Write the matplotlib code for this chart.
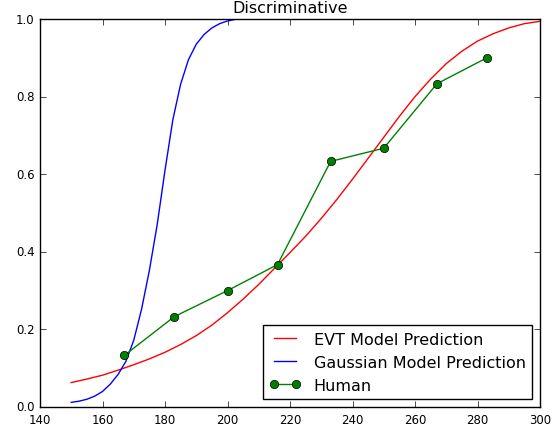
import matplotlib
matplotlib.use("Agg")
import matplotlib.pyplot as plt

plt.style.use("classic")

# Model prediction curves (stimulus value -> probability)
evt_x = [150, 155, 160, 165, 170, 175, 180, 185, 190, 195, 200, 205, 210, 215,
         220, 225, 230, 235, 240, 245, 250, 255, 260, 265, 270, 275, 280, 285,
         290, 295, 300]
evt_y = [0.063, 0.072, 0.082, 0.095, 0.109, 0.124, 0.141, 0.161, 0.184, 0.211,
         0.243, 0.278, 0.316, 0.357, 0.398, 0.440, 0.486, 0.535, 0.587, 0.641,
         0.695, 0.749, 0.800, 0.845, 0.885, 0.917, 0.943, 0.962, 0.977, 0.988,
         0.994]

gauss_x = [150, 152.5, 155, 157.5, 160, 162.5, 165, 167.5, 170, 172.5, 175,
           177.5, 180, 182.5, 185, 187.5, 190, 192.5, 195, 197.5, 200, 202.5,
           205, 210]
gauss_y = [0.012, 0.015, 0.020, 0.028, 0.040, 0.059, 0.084, 0.118, 0.172, 0.252,
           0.352, 0.470, 0.610, 0.740, 0.832, 0.895, 0.935, 0.960, 0.977, 0.988,
           0.995, 0.999, 1.0, 1.0]

# Human responses
human_x = [167, 183, 200, 216, 233, 250, 267, 283]
human_y = [0.133, 0.233, 0.300, 0.367, 0.633, 0.667, 0.833, 0.900]

x_ticks = [140, 160, 180, 200, 220, 240, 260, 280, 300]
y_ticks = [0.0, 0.2, 0.4, 0.6, 0.8, 1.0]

fig = plt.figure(figsize=(5.6, 4.27), dpi=100, facecolor="white")
ax = fig.add_axes([40 / 560, 19 / 427, 500 / 560, 388 / 427])

ax.plot(evt_x, evt_y, color="red", lw=1.0, label="EVT Model Prediction")
ax.plot(gauss_x, gauss_y, color="blue", lw=1.0, label="Gaussian Model Prediction")
ax.plot(human_x, human_y, "g-o", lw=1.0, markersize=6, label="Human")

ax.set_xlim(140, 300)
ax.set_ylim(0, 1.0)
ax.set_xticks(x_ticks)
ax.set_yticks(y_ticks)
ax.tick_params(labelsize=8.5)
ax.set_title("Discriminative", fontsize=11.5)

ax.legend(loc="lower right", fontsize=11.5, numpoints=2, fancybox=False,
          borderaxespad=0.5)

fig.savefig("out.png", dpi=100, facecolor="white")
